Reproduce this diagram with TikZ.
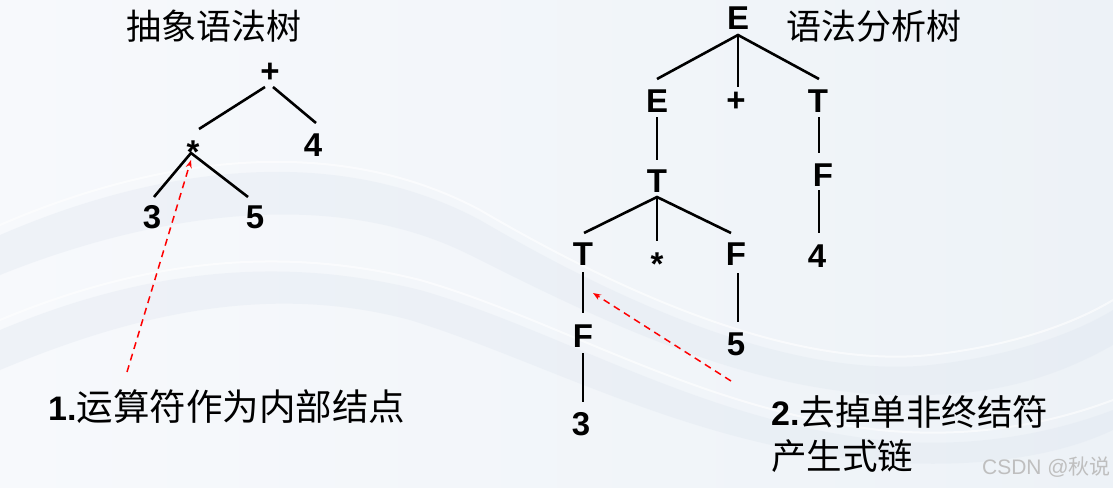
\documentclass[tikz,border=0pt]{standalone}
\usepackage{fontspec}
\setmainfont{Liberation Sans}
\newfontfamily\cjk{Noto Sans CJK SC}
\usetikzlibrary{calc,arrows.meta}
\definecolor{bgL}{HTML}{F7F9FC}
\definecolor{bgR}{HTML}{EDF2F7}
\definecolor{waveC}{HTML}{DCE4EE}
\tikzset{
  lab/.style={font=\bfseries\fontsize{33}{33}\selectfont, inner sep=0pt, anchor=base},
  cjktitle/.style={font=\cjk\fontsize{35}{35}\selectfont, inner sep=0pt, anchor=base west},
  edge/.style={line width=2.6pt},
  arr/.style={draw=red, line width=1.5pt, dash pattern=on 7pt off 5pt, -{Stealth[length=8pt,width=6pt]}},
  wave/.style={fill=waveC, fill opacity=0.3, draw=none},
  wline/.style={draw=white, line width=2pt, opacity=0.6}
}
\begin{document}
\begin{tikzpicture}[x=1pt,y=-1pt]
\useasboundingbox (0,0) rectangle (1113,487);
% background
\shade[left color=bgL, right color=bgR] (0,0) rectangle (1113,487);
\fill[wave] (0,235) .. controls (150,170) and (330,140) .. (480,220) .. controls (600,290) and (780,380) .. (930,365) .. controls (1020,355) and (1080,330) .. (1113,310) -- (1113,345) .. controls (1060,375) and (1000,395) .. (920,395) .. controls (760,400) and (600,320) .. (470,255) .. controls (330,185) and (150,215) .. (0,275) -- cycle;
\fill[wave] (0,330) .. controls (120,280) and (260,250) .. (420,290) .. controls (560,330) and (700,420) .. (880,440) .. controls (980,450) and (1060,430) .. (1113,410) -- (1113,430) .. controls (1050,460) and (960,470) .. (860,460) .. controls (680,440) and (540,360) .. (410,320) .. controls (260,280) and (120,320) .. (0,370) -- cycle;
\draw[wline] (0,225) .. controls (150,160) and (330,130) .. (480,210) .. controls (600,280) and (780,370) .. (930,355) .. controls (1020,345) and (1080,320) .. (1113,300);
\draw[wline] (0,320) .. controls (120,270) and (260,240) .. (420,280) .. controls (560,320) and (700,410) .. (880,430) .. controls (980,440) and (1060,420) .. (1113,400);

% titles
\node[cjktitle] (t1) at (126,40) {抽象语法树};
\node[cjktitle] (t2) at (786,40) {语法分析树};

% left tree (abstract syntax tree)
\node[lab] (plus) at (270,82) {+};
\node[lab] (mul) at (193,163) {*};
\node[lab] (four) at (313,156) {4};
\node[lab] (three) at (152,228) {3};
\node[lab] (five) at (255,228) {5};
\draw[edge] ($(plus.base)+(-5,5)$) -- ($(mul.base)+(6,-34)$);
\draw[edge] ($(plus.base)+(3,5)$) -- ($(four.base)+(3,-33)$);
\coordinate (mj) at ($(mul.base)+(-2,-10)$);
\draw[edge] ($(three.base)+(2,-31)$) -- (mj) -- ($(five.base)+(-7,-31)$);

% right tree (parse tree)
\node[lab] (E0) at (738,30) {E};
\node[lab] (E1) at (657,112) {E};
\node[lab] (P1) at (736,111) {+};
\node[lab] (T1) at (818,112) {T};
\node[lab] (T2) at (657,192) {T};
\node[lab] (F1) at (823,186) {F};
\node[lab] (R4) at (817,267) {4};
\node[lab] (T3) at (583,265) {T};
\node[lab] (S1) at (657,275) {*};
\node[lab] (F2) at (736,265) {F};
\node[lab] (F3) at (583,347) {F};
\node[lab] (R5) at (736,355) {5};
\node[lab] (R3) at (581,435) {3};
\coordinate (ej) at ($(E0.base)+(0,5)$);
\draw[edge] ($(E1.base)+(0,-33)$) -- (ej) -- ($(T1.base)+(1,-33)$);
\draw[edge] (ej) -- ($(P1.base)+(2,-24)$);
\draw[edge] ($(E1.base)+(0,5)$) -- ($(T2.base)+(0,-32)$);
\draw[edge] ($(T1.base)+(1,5)$) -- ($(F1.base)+(-4,-33)$);
\draw[edge] ($(F1.base)+(-4,4)$) -- ($(R4.base)+(2,-34)$);
\coordinate (tj) at ($(T2.base)+(0,5)$);
\draw[edge] ($(T3.base)+(1,-32)$) -- (tj) -- ($(F2.base)+(-5,-32)$);
\draw[edge] (tj) -- ($(S1.base)+(0,-34)$);
\draw[edge] ($(T3.base)+(0,7)$) -- ($(F3.base)+(0,-34)$);
\draw[edge] ($(F3.base)+(0,6)$) -- ($(R3.base)+(2,-33)$);
\draw[edge] ($(F2.base)+(2,8)$) -- ($(R5.base)+(2,-33)$);

% notes
\node[inner sep=0pt, anchor=base west] (n1) at (48,420) {{\bfseries\fontsize{34}{34}\selectfont 1.}{\cjk\fontsize{36.5}{36.5}\selectfont 运算符作为内部结点}};
\node[inner sep=0pt, anchor=base west] (n2) at (771,425) {{\bfseries\fontsize{34}{34}\selectfont 2.}{\cjk\fontsize{35.5}{35.5}\selectfont 去掉单非终结符}};
\node[inner sep=0pt, anchor=base west] (n3) at (771,469) {\cjk\fontsize{35.5}{35.5}\selectfont 产生式链};
\node[inner sep=0pt, anchor=base east, text=black!25] (wm) at (1111,474) {\fontsize{21}{21}\selectfont CSDN @{\cjk 秋说}};

% arrows
\coordinate (a1s) at (127,372);
\draw[arr] (a1s) -- ($(mj)+(0,7)$);
\coordinate (a2s) at (731,381);
\draw[arr] (a2s) -- ($(T3.base)+(10,28)$);
\end{tikzpicture}
\end{document}
